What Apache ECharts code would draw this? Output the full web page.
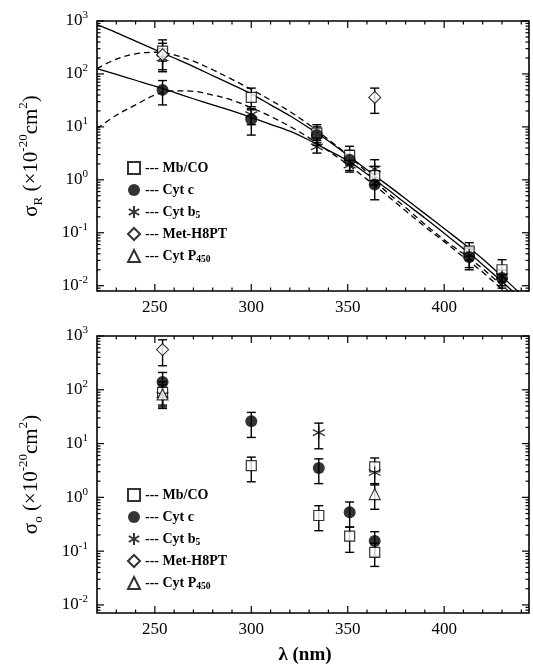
<!DOCTYPE html>
<html><head><meta charset="utf-8">
<script src="https://cdn.jsdelivr.net/npm/echarts@6/dist/echarts.min.js"></script>
<style>html,body{margin:0;padding:0;background:#fff}#c{width:533px;height:667px}</style>
</head><body><div id="c"></div>
<script>
// ---------------- data ----------------
const seriesNames = ['Mb/CO', 'Cyt c', 'Cyt b5', 'Met-H8PT', 'Cyt P450'];
const legendLabels = {'Mb/CO':'Mb/CO', 'Cyt c':'Cyt c', 'Cyt b5':'Cyt b{sub|5}', 'Met-H8PT':'Met-H8PT', 'Cyt P450':'Cyt P{sub|450}'};

// rows: [wavelength nm, value, error low, error high]  (×10^-20 cm^2)
// upper panel: sigma_R
const R_MbCO   = [[254, 270, 175, 380], [300, 36, 24, 54], [334, 7.6, 5.0, 11], [351, 2.9, 1.9, 4.3], [364, 1.2, 0.8, 1.8], [413, 0.045, 0.030, 0.065], [430, 0.020, 0.012, 0.031]];
const R_Cytc   = [[254, 50, 26, 75], [300, 14, 7, 21], [334, 7.0, 4.5, 10], [351, 2.4, 1.5, 3.6], [364, 0.82, 0.42, 1.3], [413, 0.035, 0.020, 0.052], [430, 0.014, 0.009, 0.020]];
const R_Cytb5  = [[254, 200, 110, 300], [300, 17, 11, 22], [334, 4.2, 3.2, 5.5], [351, 1.9, 1.4, 2.6], [364, 1.6, 1.0, 2.4], [413, 0.038, 0.022, 0.050], [430, 0.015, 0.010, 0.020]];
const R_MetH8PT = [[254, 230, 120, 440], [364, 36, 18, 54]];

// fitted excitation profiles (upper panel)
const fitNm = [220, 230, 240, 250, 260, 270, 280, 290, 300, 310, 320, 330, 340, 350, 360, 370, 380, 390, 400, 410, 420, 430, 440];
const fitSolidA  = [851, 603, 417, 288, 200, 138, 93, 63, 42, 26, 16.2, 9.5, 5.4, 2.9, 1.55, 0.83, 0.44, 0.23, 0.12, 0.063, 0.032, 0.015, 0.0068];
const fitSolidB  = [126, 98, 76, 59, 45, 34, 26, 20, 15.1, 11.2, 8.3, 5.6, 3.6, 2.3, 1.29, 0.69, 0.36, 0.19, 0.098, 0.050, 0.025, 0.012, 0.0055];
const fitDashedA = [126, 191, 240, 257, 229, 174, 120, 79, 51, 32, 19.5, 11, 5.8, 2.95, 1.38, 0.60, 0.30, 0.145, 0.074, 0.040, 0.021, 0.010, 0.0048];
const fitDashedB = [9.3, 16.6, 26, 40, 48, 47, 40, 32, 23, 15.8, 10.2, 6.2, 3.5, 1.95, 1.02, 0.52, 0.26, 0.13, 0.068, 0.035, 0.018, 0.0085, 0.004];

// lower panel: sigma_o
const O_MbCO    = [[254, 90, 52, 125], [300, 3.9, 1.95, 5.6], [335, 0.46, 0.24, 0.70], [351, 0.19, 0.095, 0.28], [364, 0.095, 0.052, 0.14], [364, 3.7, null, null]];
const O_Cytc    = [[254, 140, 85, 210], [300, 26, 13, 38], [335, 3.5, 1.8, 5.2], [351, 0.53, 0.28, 0.82], [364, 0.155, 0.08, 0.23]];
const O_Cytb5   = [[254, 80, 45, 140], [335, 16, 8, 24], [364, 2.9, 1.7, 5.4]];
const O_MetH8PT = [[254, 560, 280, 850]];
const O_P450    = [[254, 82, 48, 110], [364, 1.15, 0.6, 1.8]];

// axis ticks
const xTickLabels = [250, 300, 350, 400];
const xMinorTicks = [230, 240, 260, 270, 280, 290, 310, 320, 330, 340, 360, 370, 380, 390, 410, 420, 430, 440];
const yDecades = [-2, -1, 0, 1, 2, 3];

// ---------------- layout / style ----------------
const FONT = '"Liberation Serif", "Times New Roman", serif';
const X_MIN = 220, X_MAX = 444, Y_MAX = 3;
const Y_MIN = [-2.1, -2.15];

const symbols = {
  'Mb/CO':   {symbol: 'rect', symbolSize: 10, itemStyle: {color: '#fff', borderColor: '#000', borderWidth: 1.2}},
  'Cyt c':   {symbol: 'circle', symbolSize: 12, itemStyle: {color: '#000', borderColor: '#000', borderWidth: 0}},
  'Cyt b5':  {symbol: 'path://M5,0L5,10M0.67,2.5L9.33,7.5M0.67,7.5L9.33,2.5', symbolSize: 12, itemStyle: {color: 'rgba(0,0,0,0)', borderColor: '#000', borderWidth: 1.3}},
  'Met-H8PT':{symbol: 'diamond', symbolSize: 12, itemStyle: {color: '#fff', borderColor: '#000', borderWidth: 1.1}},
  'Cyt P450':{symbol: 'triangle', symbolSize: 11, itemStyle: {color: '#fff', borderColor: '#000', borderWidth: 1.1}}
};

const lg = v => Math.log10(v);
const series = [];

function errorBarItem(params, api) {
  const x = api.value(0), lo = api.value(1), hi = api.value(2);
  const a = api.coord([x, lo]), b = api.coord([x, hi]);
  const w = 4.5, st = {stroke: '#000', lineWidth: 1.4};
  return {type: 'group', children: [
    {type: 'line', shape: {x1: a[0], y1: a[1], x2: b[0], y2: b[1]}, style: st},
    {type: 'line', shape: {x1: a[0] - w, y1: a[1], x2: a[0] + w, y2: a[1]}, style: st},
    {type: 'line', shape: {x1: b[0] - w, y1: b[1], x2: b[0] + w, y2: b[1]}, style: st}
  ]};
}

function addPoints(gi, name, rows) {
  const bars = rows.filter(r => r[2] != null).map(r => [r[0], lg(r[2]), lg(r[3])]);
  series.push({type: 'custom', xAxisIndex: gi, yAxisIndex: gi, data: bars, encode: {x: 0, y: [1, 2]},
    renderItem: errorBarItem, silent: true, z: 3});
  const s = symbols[name];
  series.push(Object.assign({type: 'scatter', name: name, xAxisIndex: gi, yAxisIndex: gi, z: 5, silent: true,
    data: rows.map(r => [r[0], lg(r[1])])}, JSON.parse(JSON.stringify(s))));
}

function addFit(values, dashed) {
  series.push({type: 'line', xAxisIndex: 0, yAxisIndex: 0, smooth: 0.35, showSymbol: false, silent: true, z: 2,
    data: fitNm.map((nm, i) => [nm, lg(values[i])]),
    lineStyle: {color: '#000', width: 1.3, type: dashed ? [6, 4] : 'solid'}});
}

function addTicks(gi) {
  const yMin = Y_MIN[gi];
  const xt = xTickLabels.map(v => [v, 7]).concat(xMinorTicks.map(v => [v, 3.5]));
  series.push({type: 'custom', xAxisIndex: gi, yAxisIndex: gi, silent: true, z: 6, data: xt, encode: {x: 0},
    renderItem: (p, api) => {
      const v = api.value(0), len = api.value(1);
      const b = api.coord([v, yMin]), t = api.coord([v, Y_MAX]);
      const st = {stroke: '#000', lineWidth: 1.2};
      return {type: 'group', children: [
        {type: 'line', shape: {x1: b[0], y1: b[1], x2: b[0], y2: b[1] - len}, style: st},
        {type: 'line', shape: {x1: t[0], y1: t[1], x2: t[0], y2: t[1] + len}, style: st}]};
    }});
  const yt = [];
  yDecades.forEach(d => { if (d >= yMin && d <= Y_MAX) yt.push([d, 7]); });
  for (let d = -3; d < 3; d++) for (let k = 2; k <= 9; k++) {
    const v = d + Math.log10(k);
    if (v > yMin && v < Y_MAX) yt.push([v, 3.5]);
  }
  series.push({type: 'custom', xAxisIndex: gi, yAxisIndex: gi, silent: true, z: 6, data: yt, encode: {y: 0},
    renderItem: (p, api) => {
      const v = api.value(0), len = api.value(1);
      const l = api.coord([X_MIN, v]), r = api.coord([X_MAX, v]);
      const st = {stroke: '#000', lineWidth: 1.2};
      return {type: 'group', children: [
        {type: 'line', shape: {x1: l[0], y1: l[1], x2: l[0] + len, y2: l[1]}, style: st},
        {type: 'line', shape: {x1: r[0], y1: r[1], x2: r[0] - len, y2: r[1]}, style: st}]};
    }});
}

addFit(fitSolidA, false);
addFit(fitSolidB, false);
addFit(fitDashedA, true);
addFit(fitDashedB, true);
addPoints(0, 'Mb/CO', R_MbCO);
addPoints(0, 'Cyt c', R_Cytc);
addPoints(0, 'Cyt b5', R_Cytb5);
addPoints(0, 'Met-H8PT', R_MetH8PT);
addPoints(1, 'Mb/CO', O_MbCO);
addPoints(1, 'Cyt c', O_Cytc);
addPoints(1, 'Cyt b5', O_Cytb5);
addPoints(1, 'Met-H8PT', O_MetH8PT);
addPoints(1, 'Cyt P450', O_P450);
addTicks(0);
addTicks(1);

const supRich = {
  sup: {fontFamily: FONT, fontSize: 11, lineHeight: 11, verticalAlign: 'top', color: '#000'}
};
function xAxisCfg(gi) {
  return {type: 'value', gridIndex: gi, min: X_MIN, max: X_MAX,
    axisLine: {show: false}, axisTick: {show: false}, splitLine: {show: false},
    axisLabel: {color: '#000', fontFamily: FONT, fontSize: 17, margin: 8, showMinLabel: false, showMaxLabel: false,
      formatter: v => (xTickLabels.indexOf(Math.round(v)) >= 0 && Math.abs(v - Math.round(v)) < 1e-6) ? String(Math.round(v)) : ''}};
}
function yAxisCfg(gi, sub) {
  return {type: 'value', gridIndex: gi, min: Y_MIN[gi], max: Y_MAX,
    axisLine: {show: false}, axisTick: {show: false}, splitLine: {show: false},
    axisLabel: {color: '#000', fontFamily: FONT, fontSize: 17, lineHeight: 22, margin: 9, showMinLabel: false,
      formatter: v => (Math.abs(v - Math.round(v)) < 1e-6) ? '10{sup|' + Math.round(v) + '}' : '', rich: supRich},
    name: 'σ{sub|' + sub + '} (×10{sup|-20}cm{sup|2})', nameLocation: 'middle', nameRotate: 90, nameGap: 52,
    nameTextStyle: {color: '#000', fontFamily: FONT, fontSize: 21, lineHeight: 28,
      rich: {sub: {fontFamily: FONT, fontSize: 13, lineHeight: 14, verticalAlign: 'bottom', color: '#000'},
             sup: {fontFamily: FONT, fontSize: 13, lineHeight: 14, verticalAlign: 'top', color: '#000'}}}};
}
function legendCfg(top) {
  return {data: seriesNames, orient: 'vertical', left: 122, top: top, itemWidth: 12, itemHeight: 12, itemGap: 4,
    selectedMode: false, formatter: n => '--- ' + legendLabels[n],
    textStyle: {color: '#000', fontFamily: FONT, fontSize: 14, fontWeight: 'bold', lineHeight: 18,
      rich: {sub: {fontFamily: FONT, fontSize: 9.5, fontWeight: 'bold', lineHeight: 10, verticalAlign: 'bottom', color: '#000'}}}};
}

const option = {
  backgroundColor: '#fff',
  animation: false,
  grid: [
    {left: 97, top: 21, width: 432, height: 270, show: true, borderColor: '#000', borderWidth: 1.6, backgroundColor: 'transparent'},
    {left: 97, top: 336, width: 432, height: 277, show: true, borderColor: '#000', borderWidth: 1.6, backgroundColor: 'transparent'}
  ],
  xAxis: [xAxisCfg(0), xAxisCfg(1)],
  yAxis: [yAxisCfg(0, 'R'), yAxisCfg(1, 'o')],
  legend: [legendCfg(154), legendCfg(481)],
  graphic: [{type: 'text', x: 305, y: 655, style: {text: 'λ (nm)', fill: '#000', fontFamily: FONT, fontSize: 19, fontWeight: 'bold', align: 'center', verticalAlign: 'middle'}}],
  series: series
};

const chart = echarts.init(document.getElementById('c'), null, {renderer: 'canvas'});
chart.setOption(option);
</script>
</body></html>
